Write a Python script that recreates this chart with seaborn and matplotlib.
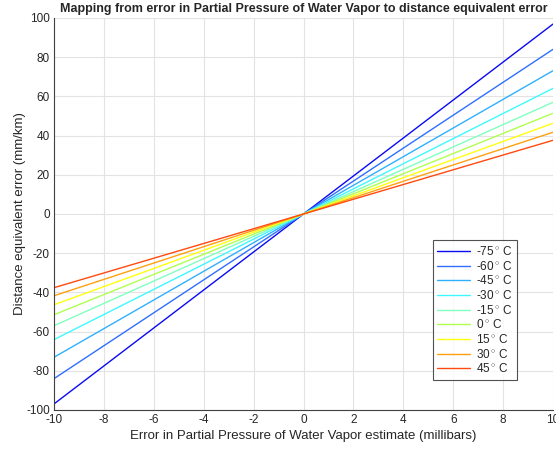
import matplotlib
matplotlib.use("Agg")
import matplotlib.pyplot as plt
import seaborn as sns
import pandas as pd

temps = [-75, -60, -45, -30, -15, 0, 15, 30, 45]
x_ends = [-10, 10]
# distance equivalent error at x = +10 millibars (mm/km)
val_at_10 = [96.9, 84.0, 73.1, 64.1, 57.0, 51.4, 46.3, 41.7, 37.6]
colors = ["#0a0af5", "#2f6fff", "#2fb0ff", "#3ff8ff", "#80ffbf",
          "#b0ff50", "#ffff10", "#ffa010", "#ff4a10"]
xticks = list(range(-10, 11, 2))
yticks = list(range(-100, 101, 20))

labels = [f"{t}$^\\circ\\,$C" for t in temps]
rows = []
for lab, v in zip(labels, val_at_10):
    for x in x_ends:
        rows.append({"x": x, "y": v * x / 10.0, "T": lab})
df = pd.DataFrame(rows)

sns.set_style("white")
plt.rcParams["font.family"] = ["Liberation Sans", "DejaVu Sans"]
plt.rcParams["mathtext.fontset"] = "custom"
plt.rcParams["mathtext.rm"] = "Liberation Sans"
plt.rcParams["axes.unicode_minus"] = False

fig = plt.figure(figsize=(5.56, 4.49), dpi=100)
ax = fig.add_axes([54 / 556, 1 - 410 / 449, (553 - 54) / 556, (410 - 18) / 449])
sns.lineplot(data=df, x="x", y="y", hue="T", hue_order=labels,
             palette=colors, ax=ax, linewidth=1.0, legend=True)

ax.set_xlim(-10, 10)
ax.set_ylim(-100, 100)
ax.set_xticks(xticks)
ax.set_yticks(yticks)
ax.grid(True, color="#e3e3e3", linewidth=0.8)
ax.set_axisbelow(True)
for s in ["top", "right"]:
    ax.spines[s].set_visible(False)
for s in ["left", "bottom"]:
    ax.spines[s].set_color("#404040")
    ax.spines[s].set_linewidth(0.8)
ax.tick_params(direction="in", length=4, width=0.8, color="#404040",
               labelsize=8.5, labelcolor="#262626", pad=3)
ax.set_xlabel("Error in Partial Pressure of Water Vapor estimate (millibars)",
              fontsize=9.5, color="#262626", labelpad=3)
ax.set_ylabel("Distance equivalent error (mm/km)", fontsize=9.5,
              color="#262626", labelpad=0)
ax.set_title("Mapping from error in Partial Pressure of Water Vapor to distance equivalent error",
             fontsize=9, fontweight="bold", pad=4)

leg = ax.legend(loc="lower right", bbox_to_anchor=(0.928, 0.0765), fontsize=8.5,
                frameon=True, fancybox=False, edgecolor="#262626",
                handlelength=2.8, labelspacing=0.14, borderpad=0.4,
                handletextpad=0.45, borderaxespad=0)
leg.get_frame().set_linewidth(0.8)

fig.savefig("out.png", dpi=100)
